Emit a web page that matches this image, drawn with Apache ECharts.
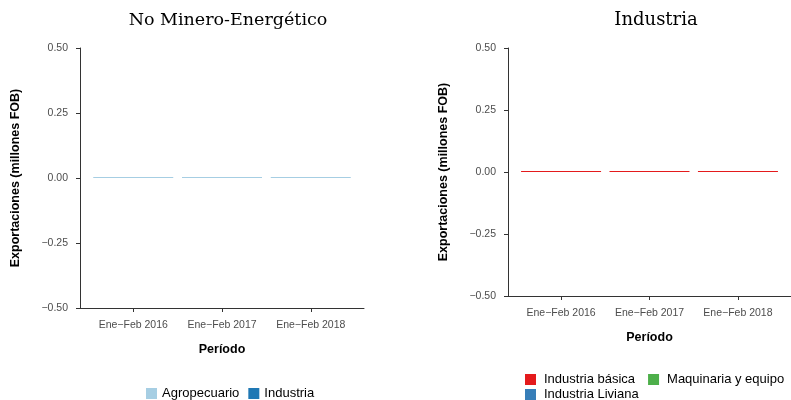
<!DOCTYPE html>
<html>
<head>
<meta charset="utf-8">
<script src="https://cdn.jsdelivr.net/npm/echarts@6/dist/echarts.min.js"></script>
<style>html,body{margin:0;padding:0;background:#fff}#c{width:791px;height:400px}</style>
</head>
<body>
<div id="c"></div>
<script>
var categories = ['Ene\u2212Feb 2016', 'Ene\u2212Feb 2017', 'Ene\u2212Feb 2018'];
var yTicks = [-0.5, -0.25, 0, 0.25, 0.5];
var agropecuario = [0, 0, 0];
var industria = [0, 0, 0];
var industriaBasica = [0, 0, 0];
var maquinaria = [0, 0, 0];
var industriaLiviana = [0, 0, 0];

var chart = echarts.init(document.getElementById('c'), null, {renderer: 'canvas'});
var positions = categories.map(function (c, i) { return i + 1; });
function pts(arr) { return arr.map(function (v, i) { return [positions[i], v]; }); }
var sans = 'Liberation Sans, Arial, sans-serif';
function yFmt(v) { return (v < 0 ? '\u2212' : '') + Math.abs(v).toFixed(2); }
function xAxisCfg(gi) {
  return {
    type: 'value', gridIndex: gi, min: 0.4, max: 3.6,
    name: 'Período', nameLocation: 'middle', nameGap: 35,
    nameTextStyle: {fontFamily: sans, fontSize: 12.5, fontWeight: 'bold', color: '#000'},
    axisLine: {show: true, onZero: false, lineStyle: {color: '#333', width: 1}},
    axisTick: {show: true, customValues: positions, length: 4, lineStyle: {color: '#333'}},
    axisLabel: {customValues: positions, formatter: function (v) { return categories[Math.round(v) - 1]; },
      fontFamily: sans, fontSize: 10.5, color: '#4d4d4d', margin: 12},
    splitLine: {show: false}
  };
}
function yAxisCfg(gi) {
  return {
    type: 'value', gridIndex: gi, min: -0.5, max: 0.5, interval: 0.25,
    name: 'Exportaciones (millones FOB)', nameLocation: 'middle', nameGap: 58, nameRotate: 90,
    nameTextStyle: {fontFamily: sans, fontSize: 12.5, fontWeight: 'bold', color: '#000'},
    axisLine: {show: true, lineStyle: {color: '#333', width: 1}},
    axisTick: {show: true, length: 4, lineStyle: {color: '#333'}},
    axisLabel: {formatter: yFmt, fontFamily: sans, fontSize: 10.5, color: '#4d4d4d', margin: 12},
    splitLine: {show: false}
  };
}
function barSeries(name, data, gi, color, minH) {
  return {
    name: name, type: 'bar', xAxisIndex: gi, yAxisIndex: gi, stack: 's' + gi,
    data: pts(data), barWidth: 80, barMinHeight: minH, z: minH ? 5 : 2,
    itemStyle: {color: color}, silent: true
  };
}
var legTextL = {fontFamily: sans, fontSize: 13, color: '#000'};
var legTextR = {fontFamily: sans, fontSize: 13, color: '#000', padding: [0, 0, 0, 3]};
var option = {
  animation: false,
  title: [
    {text: 'No Minero-Energético', left: 223, top: 6, textAlign: 'center',
     textStyle: {fontFamily: 'DejaVu Serif, serif', fontSize: 17.5, fontWeight: 'normal', color: '#000'}},
    {text: 'Industria', left: 651, top: 6, textAlign: 'center',
     textStyle: {fontFamily: 'DejaVu Serif, serif', fontSize: 18, fontWeight: 'normal', color: '#000'}}
  ],
  grid: [
    {left: 80, right: 427, top: 48, bottom: 92},
    {left: 508, right: 0, top: 48, bottom: 104}
  ],
  xAxis: [xAxisCfg(0), xAxisCfg(1)],
  yAxis: [yAxisCfg(0), yAxisCfg(1)],
  legend: [
    {data: ['Agropecuario', 'Industria'], left: 146, top: 387, padding: 0, itemWidth: 11, itemHeight: 11, itemGap: 9,
     icon: 'rect', textStyle: legTextL},
    {data: ['Industria básica', 'Maquinaria y equipo'], left: 525, top: 373, padding: 0, itemWidth: 11, itemHeight: 11, itemGap: 13,
     icon: 'rect', textStyle: legTextR},
    {data: ['Industria Liviana'], left: 525, top: 388, padding: 0, itemWidth: 11, itemHeight: 11,
     icon: 'rect', textStyle: legTextR}
  ],
  series: [
    barSeries('Industria', industria, 0, '#1f78b4', 0),
    barSeries('Agropecuario', agropecuario, 0, '#a6cee3', 1),
    barSeries('Maquinaria y equipo', maquinaria, 1, '#4daf4a', 0),
    barSeries('Industria Liviana', industriaLiviana, 1, '#377eb8', 0),
    barSeries('Industria básica', industriaBasica, 1, '#e41a1c', 1)
  ]
};
chart.setOption(option);
</script>
</body>
</html>
